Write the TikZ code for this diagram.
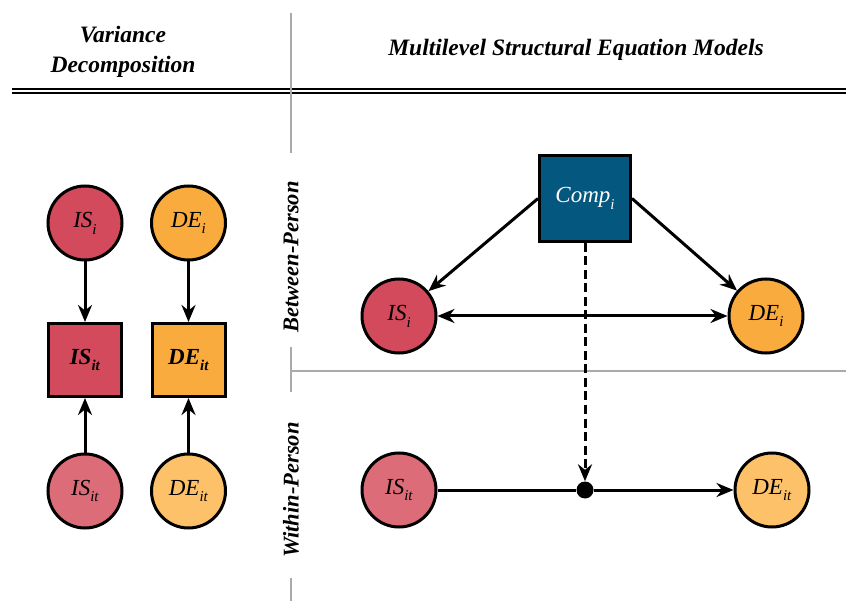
\documentclass[tikz,border=0pt]{standalone}
\usepackage{fontspec}
\setmainfont{Liberation Serif}
\usetikzlibrary{arrows.meta}
\definecolor{isred}{HTML}{D24A5B}
\definecolor{islight}{HTML}{DD6C79}
\definecolor{deorange}{HTML}{F9AB3E}
\definecolor{delight}{HTML}{FDC169}
\definecolor{compblue}{HTML}{04577F}
\definecolor{sepgray}{HTML}{AAAAAA}
\newcommand\vlab[2]{\textit{#1}\raisebox{-0.3em}{\fontsize{15}{15}\selectfont\textit{#2}}}
\newcommand\blab[2]{\textbf{\textit{#1}\raisebox{-0.3em}{\fontsize{15}{15}\selectfont\textit{#2}}}}
\tikzset{
  var/.style={circle, draw=black, line width=3pt, minimum size=74pt, inner sep=0pt, font=\fontsize{23}{23}\selectfont},
  obs/.style={rectangle, draw=black, line width=3pt, minimum size=73pt, inner sep=0pt, font=\fontsize{23}{23}\selectfont},
  tip/.tip={Stealth[length=17pt,width=14pt,inset=5.5pt]},
  arr/.style={line width=3pt, -tip},
  darr/.style={line width=3pt, tip-tip},
  sep/.style={draw=sepgray, line width=1.8pt},
  head/.style={font=\fontsize{23.5}{30}\selectfont\bfseries\itshape, align=center},
  side/.style={font=\fontsize{22.5}{26}\selectfont\bfseries\itshape, rotate=90}
}
\begin{document}
\begin{tikzpicture}[x=1pt,y=-1pt]
\useasboundingbox (0,0) rectangle (846,601);
% headers
\node[head] (hvar) at (123,52) {Variance\\Decomposition};
\node[head] (hmsem) at (576,50) {Multilevel Structural Equation Models};
\draw[line width=2pt] (12,89) -- (846,89);
\draw[line width=2pt] (12,93.5) -- (846,93.5);
% separators
\draw[sep] (291,13) -- (291,153);
\draw[sep] (291,347) -- (291,392);
\draw[sep] (291,578) -- (291,601);
\draw[sep] (291,371) -- (846,371);
% side labels
\node[side] (lbp) at (291,257) {Between-Person};
\node[side] (lwp) at (291,490) {Within-Person};
% left column
\node[var, fill=isred] (lisi) at (85,223) {\vlab{IS}{i}};
\node[var, fill=deorange] (ldei) at (188.5,223) {\vlab{DE}{i}};
\node[obs, fill=isred] (lisit) at (85,360) {\blab{IS}{it}};
\node[obs, fill=deorange] (ldeit) at (188.5,360) {\blab{DE}{it}};
\node[var, fill=islight] (lisw) at (85,491) {\vlab{IS}{it}};
\node[var, fill=delight] (ldew) at (188.5,491) {\vlab{DE}{it}};
\draw[arr] (lisi) -- (lisit);
\draw[arr] (ldei) -- (ldeit);
\draw[arr] (lisw) -- (lisit);
\draw[arr] (ldew) -- (ldeit);
% right: between
\node[rectangle, draw=black, line width=3pt, minimum width=91pt, minimum height=86pt, fill=compblue, text=white, font=\fontsize{23}{23}\selectfont] (comp) at (585,198.5) {\vlab{Comp}{i}};
\node[var, fill=isred] (risb) at (399,316) {\vlab{IS}{i}};
\node[var, fill=deorange] (rdeb) at (766,316) {\vlab{DE}{i}};
\draw[arr] (comp.west) -- (risb);
\draw[arr] (comp.east) -- (rdeb);
\draw[darr] (risb) -- (rdeb);
% right: within
\node[var, fill=islight] (risw) at (399,490) {\vlab{IS}{it}};
\node[var, fill=delight] (rdew) at (772,490) {\vlab{DE}{it}};
\node[circle, fill=black, minimum size=17pt, inner sep=0pt] (dot) at (585,490) {};
\draw[line width=3pt] (risw) -- (dot);
\draw[arr] (dot) -- (rdew);
\draw[arr, dash pattern=on 9pt off 4.5pt] (comp.south) -- (dot);
\end{tikzpicture}
\end{document}
